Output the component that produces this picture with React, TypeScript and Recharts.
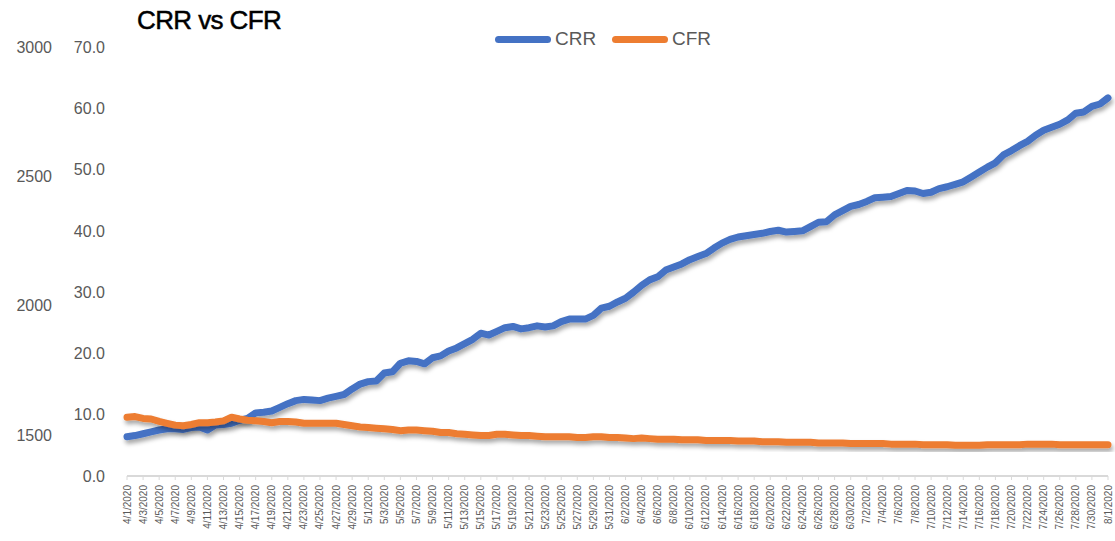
import { Line, LineChart, XAxis, YAxis } from 'recharts';

// one label per day, 4/1/2020 .. 8/1/2020
const monthDays: [number, number][] = [[4, 30], [5, 31], [6, 30], [7, 31], [8, 1]];
const dates: string[] = monthDays.flatMap(([m, n]) => Array.from({ length: n }, (_, i) => `${m}/${i + 1}/2020`));

const crr = [
  6.4, 6.6, 6.9, 7.2, 7.5, 7.7, 7.7, 7.6, 7.9, 8.0, 7.5, 8.3, 8.4, 8.6, 9.1, 9.4, 10.3, 10.4, 10.6, 11.2,
  11.8, 12.3, 12.5, 12.4, 12.3, 12.7, 13.0, 13.3, 14.2, 15.0, 15.4, 15.5, 16.8, 17.0, 18.4, 18.8, 18.7, 18.3, 19.3, 19.6,
  20.4, 20.9, 21.6, 22.3, 23.3, 23.0, 23.6, 24.2, 24.4, 24.0, 24.2, 24.5, 24.3, 24.5, 25.2, 25.6, 25.6, 25.6, 26.2, 27.4,
  27.7, 28.4, 29.0, 30.0, 31.1, 32.0, 32.5, 33.6, 34.1, 34.6, 35.3, 35.8, 36.3, 37.2, 38.0, 38.6, 39.0, 39.2, 39.4, 39.6,
  39.9, 40.1, 39.8, 39.9, 40.0, 40.7, 41.4, 41.5, 42.6, 43.3, 44.0, 44.3, 44.8, 45.4, 45.5, 45.6, 46.1, 46.6, 46.5, 46.1,
  46.3, 46.9, 47.2, 47.6, 48.0, 48.8, 49.6, 50.4, 51.1, 52.4, 53.1, 53.9, 54.6, 55.6, 56.4, 56.9, 57.4, 58.1, 59.2, 59.4,
  60.3, 60.7, 61.7,
];

const cfr = [
  9.6, 9.7, 9.4, 9.3, 8.9, 8.6, 8.3, 8.2, 8.4, 8.7, 8.7, 8.8, 9.0, 9.6, 9.3, 9.1, 9.0, 8.9, 8.7, 8.9,
  8.9, 8.8, 8.6, 8.6, 8.6, 8.6, 8.6, 8.4, 8.2, 8.0, 7.9, 7.8, 7.7, 7.6, 7.4, 7.5, 7.5, 7.4, 7.3, 7.1,
  7.1, 6.9, 6.8, 6.7, 6.6, 6.6, 6.8, 6.8, 6.7, 6.6, 6.6, 6.5, 6.4, 6.4, 6.4, 6.4, 6.3, 6.3, 6.4, 6.4,
  6.3, 6.3, 6.2, 6.1, 6.2, 6.1, 6.0, 6.0, 6.0, 5.9, 5.9, 5.9, 5.8, 5.8, 5.8, 5.8, 5.7, 5.7, 5.7, 5.6,
  5.6, 5.6, 5.5, 5.5, 5.5, 5.5, 5.4, 5.4, 5.4, 5.4, 5.3, 5.3, 5.3, 5.3, 5.3, 5.2, 5.2, 5.2, 5.2, 5.1,
  5.1, 5.1, 5.1, 5.0, 5.0, 5.0, 5.0, 5.1, 5.1, 5.1, 5.1, 5.1, 5.2, 5.2, 5.2, 5.2, 5.1, 5.1, 5.1, 5.1,
  5.1, 5.1, 5.1,
];

const rateTicks = [0, 10, 20, 30, 40, 50, 60, 70];
const countTicks = [1500, 2000, 2500, 3000];

const BLUE = '#4472c4';
const ORANGE = '#ed7d31';
const GREY = '#595959';
const FONT = '"Liberation Sans", Arial, sans-serif';

const data = dates.map((date, i) => ({ date, crr: crr[i], cfr: cfr[i] }));

type TickProps = { x?: number; y?: number; payload?: { value: string } };

function DateTick({ x = 0, y = 0, payload }: TickProps) {
  return (
    <text x={x} y={y + 3} transform={`rotate(-90 ${x} ${y + 3})`} textAnchor="end" dominantBaseline="central"
      fontSize={10} fill={GREY} fontFamily={FONT}>
      {payload?.value}
    </text>
  );
}

function LegendItem({ color, label, left }: { color: string; label: string; left: number }) {
  return (
    <div style={{ position: 'absolute', left, top: 0, height: 20, display: 'flex', alignItems: 'center' }}>
      <span style={{ width: 56, height: 7, borderRadius: 4, background: color, display: 'inline-block' }} />
      <span style={{ marginLeft: 4, fontSize: 19, color: GREY, fontFamily: FONT }}>{label}</span>
    </div>
  );
}

export default function App() {
  return (
    <div style={{ position: 'absolute', left: 0, top: 0, width: 1115, height: 541, background: '#fff' }}>
      <div style={{ position: 'absolute', left: 137, top: 5, lineHeight: '30px', fontSize: 26, letterSpacing: -0.6,
        fontFamily: FONT, color: '#000', WebkitTextStroke: '0.5px #000' }}>
        CRR vs CFR
      </div>
      <div style={{ position: 'absolute', left: 0, top: 29, width: 1115, height: 20 }}>
        <LegendItem color={BLUE} label="CRR" left={495} />
        <LegendItem color={ORANGE} label="CFR" left={612} />
      </div>
      <LineChart width={1115} height={541} data={data} margin={{ top: 47, right: 7, bottom: 0, left: 0 }}>
        <defs>
          <filter id="lineShadow" x="-5%" y="-20%" width="110%" height="140%">
            <feDropShadow dx="1.5" dy="3.5" stdDeviation="2.2" floodColor="#000" floodOpacity="0.35" />
          </filter>
        </defs>
        <XAxis dataKey="date" interval={1} height={65} tick={<DateTick />} tickSize={4}
          axisLine={{ stroke: '#d9d9d9', strokeWidth: 2 }} tickLine={{ stroke: '#d9d9d9' }} />
        <YAxis yAxisId="a" domain={[0, 70]} ticks={rateTicks} width={67} axisLine={false} tickLine={false}
          tickSize={0} tickMargin={22} tickFormatter={(v: number) => v.toFixed(1)}
          tick={{ fill: GREY, fontSize: 16, fontFamily: FONT }} />
        <YAxis yAxisId="b" domain={[1342, 3000]} ticks={countTicks} width={60} axisLine={false} tickLine={false}
          allowDataOverflow tickSize={0} tickMargin={8} tick={{ fill: GREY, fontSize: 16, fontFamily: FONT }} />
        <Line yAxisId="b" dataKey="none" stroke="none" dot={false} legendType="none" isAnimationActive={false} />
        <Line yAxisId="a" dataKey="crr" name="CRR" stroke={BLUE} strokeWidth={7} dot={false} type="linear"
          strokeLinejoin="round" strokeLinecap="round" filter="url(#lineShadow)" isAnimationActive={false} />
        <Line yAxisId="a" dataKey="cfr" name="CFR" stroke={ORANGE} strokeWidth={7} dot={false} type="linear"
          strokeLinejoin="round" strokeLinecap="round" filter="url(#lineShadow)" isAnimationActive={false} />
      </LineChart>
    </div>
  );
}
